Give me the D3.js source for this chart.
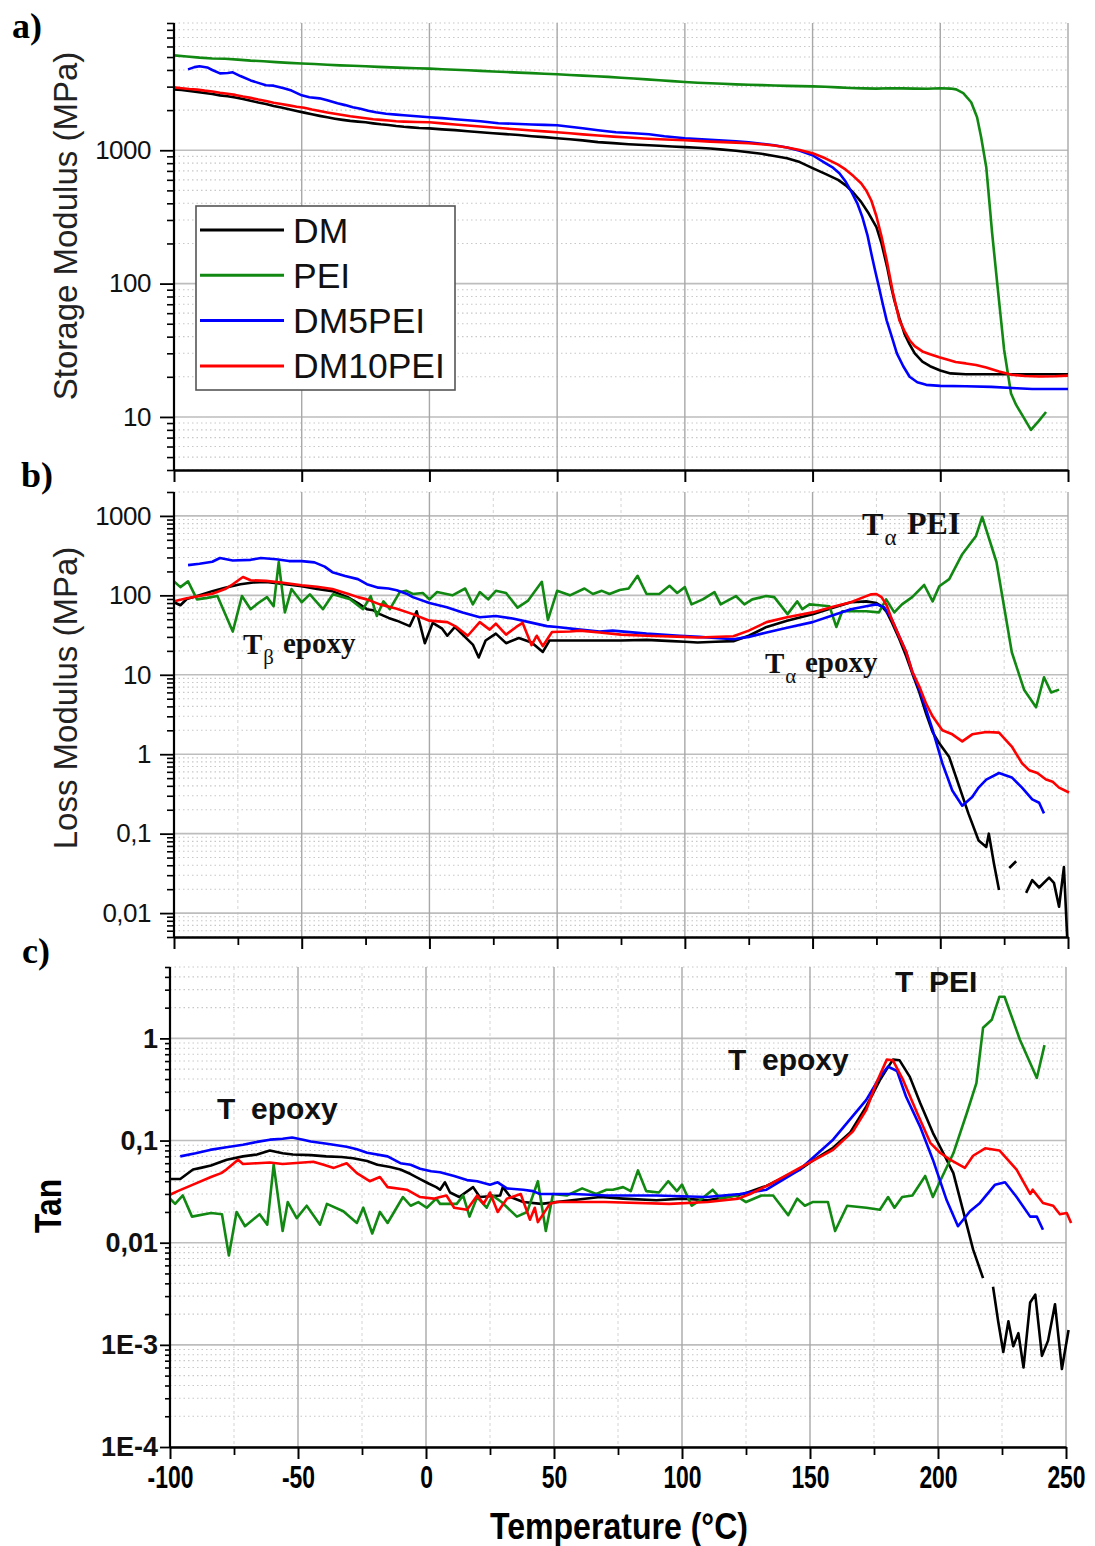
<!DOCTYPE html>
<html><head><meta charset="utf-8">
<script src="https://cdn.jsdelivr.net/npm/d3@7"></script>
<style>
body{margin:0;background:#fff}
svg{display:block}
</style>
</head><body>
<svg id="chart" width="1095" height="1546" font-family="'Liberation Sans',Arial,sans-serif"></svg>
<script>
// ---------- DATA ----------
const seriesNames = ["DM", "PEI", "DM5PEI", "DM10PEI"];
const seriesColors = ["#000000", "#118811", "#0000ff", "#ff0000"];
const xTickValues = [-100, -50, 0, 50, 100, 150, 200, 250];
const xMinorValues = [-75, -25, 25, 75, 125, 175, 225];
const xTickLabels = ["-100", "-50", "0", "50", "100", "150", "200", "250"];

const storageTicks = [10, 100, 1000];
const storageLabels = ["10", "100", "1000"];
const lossTicks = [0.01, 0.1, 1, 10, 100, 1000];
const lossLabels = ["0,01", "0,1", "1", "10", "100", "1000"];
const tanTicks = [1e-4, 1e-3, 0.01, 0.1, 1];
const tanLabels = ["1E-4", "1E-3", "0,01", "0,1", "1"];

// a) Storage modulus (MPa) : [T, E']
const storageDM = [[-100,2860],[-97,2830],[-94,2780],[-91,2740],[-88,2690],[-85,2640],[-82,2580],[-79,2540],[-76,2490],[-73,2420],[-70,2350],[-67,2280],[-64,2220],[-61,2150],[-58,2090],[-55,2030],[-52,1970],[-49,1915],[-46,1860],[-43,1810],[-40,1765],[-37,1725],[-34,1690],[-31,1660],[-28,1640],[-25,1620],[-22,1590],[-19,1565],[-16,1545],[-13,1520],[-10,1500],[-7,1485],[-4,1470],[0,1460],[5,1435],[10,1415],[15,1390],[20,1365],[25,1340],[30,1320],[35,1300],[40,1275],[45,1255],[50,1230],[55,1210],[60,1185],[66,1150],[72,1130],[78,1110],[84,1095],[90,1080],[95,1068],[100,1055],[105,1045],[110,1030],[115,1010],[120,990],[125,966],[130,940],[135,905],[140,870],[145,815],[150,735],[155,665],[160,600],[163,545],[166,480],[169,410],[172,335],[175,265],[177,200],[179.2,133],[180.5,100],[182,75],[184,55],[186,42],[188,35],[190,30],[193,26],[196,24],[200,22.3],[204,21.2],[210,20.9],[220,20.9],[235,20.9],[250,20.9]];
const storagePEI = [[-100,5150],[-95,5050],[-90,4950],[-85,4880],[-80,4850],[-75,4780],[-70,4700],[-65,4650],[-60,4580],[-55,4520],[-50,4470],[-45,4430],[-40,4380],[-35,4330],[-30,4300],[-25,4260],[-20,4220],[-15,4180],[-10,4150],[-5,4120],[0,4090],[5,4050],[10,4010],[15,3980],[20,3940],[25,3900],[30,3860],[35,3820],[40,3790],[45,3750],[50,3710],[55,3670],[60,3630],[65,3590],[70,3550],[75,3500],[80,3450],[85,3400],[90,3350],[95,3300],[100,3250],[105,3210],[110,3180],[115,3150],[120,3120],[125,3100],[130,3080],[135,3060],[140,3040],[145,3025],[150,3015],[155,2990],[160,2960],[165,2930],[170,2910],[175,2900],[180,2920],[185,2910],[190,2900],[195,2890],[200,2920],[204,2900],[206.2,2860],[209,2680],[212.1,2290],[214.4,1770],[216,1250],[218,746],[220.3,239],[222.3,100],[225,31.8],[227.7,15],[229.7,12.3],[232.5,10],[235.5,8.0],[238.5,9.3],[241.4,10.9]];
const storageDM5PEI = [[-94.5,4040],[-92,4200],[-90,4260],[-87,4180],[-85,4000],[-82,3770],[-79,3800],[-77,3840],[-74,3600],[-70,3340],[-67,3200],[-64,3070],[-61,3050],[-57,2914],[-54,2800],[-50,2580],[-47,2500],[-43,2450],[-40,2370],[-36,2250],[-33,2180],[-30,2100],[-27,2050],[-24,1980],[-21,1925],[-17,1880],[-13,1850],[-10,1830],[-5,1800],[0,1770],[5,1740],[10,1710],[15,1680],[20,1650],[27,1594],[33,1580],[40,1560],[45,1550],[50,1538],[55,1500],[60,1460],[66,1412],[73,1364],[80,1340],[86,1318],[92,1275],[100,1230],[105,1215],[110,1200],[115,1180],[120,1165],[125,1148],[130,1120],[135,1090],[140,1050],[145,990],[150,917],[155,800],[158,740],[160.5,672],[163,580],[165.5,476],[167.5,400],[169.5,315],[171.5,230],[173,168],[174.5,125],[176,94],[177.5,70],[179,53],[181,40],[183,30],[185.5,24],[188,20],[191,18.2],[194.5,17.4],[200,17.1],[210,17],[220,16.8],[230,16.4],[236,16.2],[250,16.2]];
const storageDM10PEI = [[-100,2960],[-97,2920],[-94,2880],[-91,2850],[-88,2800],[-85,2760],[-82,2700],[-79,2650],[-76,2600],[-73,2530],[-70,2470],[-67,2400],[-64,2340],[-61,2270],[-58,2220],[-55,2170],[-52,2120],[-49,2080],[-46,2020],[-43,1970],[-40,1920],[-37,1880],[-34,1840],[-31,1800],[-28,1770],[-25,1740],[-22,1710],[-19,1690],[-16,1670],[-13,1650],[-10,1640],[-5,1630],[0,1620],[5,1590],[10,1560],[15,1535],[20,1505],[25,1480],[30,1455],[35,1430],[40,1405],[45,1385],[50,1364],[55,1340],[60,1315],[66,1290],[72,1265],[78,1245],[84,1225],[90,1210],[95,1200],[100,1188],[105,1175],[110,1160],[115,1150],[120,1140],[125,1128],[130,1110],[135,1085],[140,1050],[145,1005],[150,950],[155,870],[160,780],[163,715],[166,640],[169,565],[171,500],[173,420],[175,320],[177,225],[179,150],[181.5,85],[184,53],[186,44],[188,37.6],[190,34],[193,31],[196,29.5],[199.6,28],[203,26.8],[206,25.8],[210,25.2],[214,24.5],[218,23.5],[223,21.9],[228,20.7],[233,20.3],[239,20.1],[245,20.2],[250,20.4]];

// b) Loss modulus (MPa) : [T, E'']  (null = gap in the record)
const lossDM = [[-100,82],[-97.5,75],[-95,90],[-90,100],[-85,113],[-80,125],[-74,138],[-69,145],[-64,147],[-58,140],[-50,130],[-44,120],[-38,113],[-32,95],[-28,80],[-24.5,67],[-22,65],[-19.4,58],[-16,52],[-12.8,48],[-7.7,41],[-5,63],[-1.8,25],[1.3,45],[5,38],[7,31],[10,40],[13,32],[17,24],[19.3,16.5],[22,27],[26,33],[30,25],[35,29],[40,25.5],[44.4,19.4],[47,27],[55,27],[60,27],[66.6,27],[75,27],[85,27.5],[95,26.5],[100,26],[105,25.5],[112,26],[119,26.5],[125,31],[132,40],[140,48],[150,58],[158,70],[165,82],[171,84],[175,80],[177,73],[179,62],[181,46],[184,28],[186.7,17],[189,10.5],[191.8,6],[194.5,3.2],[197,1.9],[199.6,1.37],[203.5,0.92],[207,0.43],[211,0.18],[215,0.082],[218,0.068],[219,0.1],[221,0.042],[223,0.0195],[225,null],[227,0.037],[229.7,0.045],[231.5,null],[233.6,0.018],[236,0.026],[238.7,0.021],[242.6,0.028],[244.5,0.024],[246.5,0.012],[248.4,0.038],[250,0.003]];
const lossPEI = [[-100,150],[-97.5,127],[-94.5,150],[-91,89],[-87,93],[-83,98],[-77,35],[-73.4,98],[-70,67],[-67,80],[-63.6,95],[-61,73],[-59,262],[-56.6,61],[-54,120],[-50,82],[-46.8,103],[-41.7,67],[-37.8,103],[-31,89],[-26,67],[-23,98],[-20.6,55],[-18,84],[-15.5,67],[-11.6,110],[-9,114],[-6.5,104],[-2.6,107],[0,89],[3,110],[9,100],[14,122],[17,77],[19.7,110],[23,89],[26,114],[30,107],[34.5,70],[38.5,85],[44,148],[46.4,49],[50,114],[55,100],[60.7,122],[64,104],[67.5,114],[70.5,104],[74.5,117],[78,122],[81.5,176],[85,104],[90,104],[94,132],[97,107],[100,127],[102.6,77],[107,89],[111.6,110],[114,77],[120,98],[123.3,77],[126.4,89],[131.8,98],[135,95],[140.2,58],[144,84],[146,67],[148.8,77],[152.6,75],[156.6,73],[159.3,40],[161.6,63],[165.5,63],[171,63],[176,61],[178.8,89],[182,61],[185,77],[189,95],[193.7,135],[197,84],[199.6,130],[203.5,160],[208.6,330],[214,560],[216.4,970],[222,263],[228,19.2],[232.8,6.5],[237.5,3.9],[240.6,9.3],[243.4,6],[246.5,6.5]];
const lossDM5PEI = [[-94.5,240],[-90,250],[-85,265],[-82,295],[-77,275],[-70,280],[-66,295],[-60,285],[-55,270],[-50,270],[-45,260],[-41,230],[-38,196],[-33,175],[-28,160],[-24.5,138],[-20,125],[-16,122],[-12.8,116],[-9,105],[-6.5,95],[0,80],[6.8,71],[13,61],[19.7,53],[26,55],[32.6,51],[39,46],[46,41],[50,40],[59,37],[66.6,35],[71.7,36],[85,33],[98,31],[105.7,30],[112,29],[119,28],[125,30],[132,34],[140,39],[150,46],[158,56],[165,67],[172,74],[175,77],[178,71],[181,50],[184,30],[186.7,19.2],[189,11],[191.8,6.5],[194.5,3.6],[197,2.03],[200.8,0.77],[204.7,0.35],[208.6,0.225],[212.5,0.29],[215,0.38],[218,0.48],[223,0.58],[228,0.51],[232,0.38],[236,0.27],[238.7,0.245],[240.6,0.18]];
const lossDM10PEI = [[-100,84],[-95,92],[-90,98],[-85,105],[-80,120],[-77,138],[-73,170],[-70,155],[-64,152],[-58,145],[-50,134],[-44,128],[-38,120],[-32,105],[-28,95],[-24.5,89],[-19.4,77],[-15,71],[-12.8,68],[-6.5,58],[0,48],[7,46],[10.6,40],[15,31],[19.7,46],[23.6,37],[26,44],[30,32],[34,40],[36.5,45],[40,23.6],[42,31],[44.4,23],[48,34.5],[55,35],[59,36],[66.6,34],[75,32],[85,31],[100,30],[105,29.5],[119,30.5],[125,36],[132,46],[140,53],[150,61],[158,72],[165,82],[170,95],[173,103],[175,104],[177,95],[179,75],[181,50],[184,30],[186.7,19.2],[189,11],[191.8,7.1],[194.5,4.3],[197,3.0],[200.8,2.0],[204.7,1.78],[208.6,1.45],[212.5,1.78],[218,1.9],[223,1.87],[228,1.25],[232,0.77],[234.8,0.63],[238,0.58],[241.4,0.48],[244,0.45],[246.5,0.38],[250.4,0.33]];

// c) Tan delta : [T, tan d]
const tanDM = [[-100,0.042],[-96,0.042],[-91,0.052],[-88,0.054],[-84,0.057],[-80,0.062],[-77.8,0.065],[-71.5,0.070],[-66,0.073],[-61,0.080],[-56,0.075],[-52,0.073],[-45,0.072],[-39,0.070],[-33,0.069],[-28.5,0.067],[-23,0.063],[-19,0.058],[-14,0.055],[-10,0.052],[-6,0.047],[-2.3,0.042],[1,0.038],[4,0.035],[5.5,0.033],[7.4,0.039],[9.4,0.031],[13,0.028],[18.4,0.035],[21,0.028],[29,0.029],[30,0.035],[33,0.028],[38,0.025],[45,0.024],[57,0.026],[68,0.028],[77,0.027],[90,0.026],[100,0.027],[110,0.026],[124,0.030],[133,0.036],[140,0.044],[146,0.052],[152,0.066],[159,0.085],[165.6,0.119],[172,0.216],[177.3,0.39],[180,0.5],[182.4,0.62],[185,0.61],[189,0.42],[193,0.234],[198,0.119],[202,0.076],[206,0.048],[210,0.0197],[213.7,0.0086],[217.6,0.0045],[219.5,null],[221.5,0.0037],[223.5,0.0017],[225.5,0.00085],[227.5,0.0017],[229.4,0.00097],[231.4,0.0013],[233.4,0.0006],[236,0.0026],[238,0.0031],[240.6,0.00078],[243,0.0011],[245.7,0.0025],[248.4,0.00058],[251,0.0014]];
const tanPEI = [[-100.6,0.028],[-98,0.024],[-95,0.029],[-91.4,0.018],[-84,0.0195],[-79.7,0.019],[-77,0.0075],[-74,0.020],[-70.7,0.0145],[-65,0.019],[-62,0.015],[-59.5,0.058],[-56,0.013],[-54,0.025],[-50.5,0.0174],[-46.6,0.023],[-41.4,0.015],[-38.7,0.024],[-32.3,0.0203],[-27,0.0156],[-24.5,0.022],[-21,0.0123],[-18,0.020],[-15,0.0156],[-9,0.028],[-6,0.023],[-3,0.025],[0.3,0.022],[4,0.027],[5.5,0.024],[12,0.024],[14.5,0.029],[17,0.018],[20,0.028],[23.7,0.022],[26,0.029],[29.5,0.025],[35.5,0.018],[39.5,0.020],[43.7,0.040],[46.8,0.013],[49.6,0.030],[55,0.029],[61,0.034],[66.5,0.030],[70.5,0.033],[73,0.033],[77,0.035],[80,0.032],[82.8,0.051],[86,0.032],[91,0.031],[94.6,0.040],[98,0.032],[100,0.037],[103.8,0.023],[107,0.026],[112,0.033],[115,0.027],[121,0.029],[125,0.025],[131,0.029],[135.6,0.029],[141.5,0.0186],[145,0.027],[148,0.023],[151,0.025],[157,0.025],[159.8,0.013],[164.5,0.023],[172,0.022],[177.3,0.021],[180.5,0.028],[183,0.022],[186,0.028],[190,0.029],[195,0.045],[198,0.028],[200.8,0.040],[206,0.075],[211.3,0.187],[215,0.365],[217.6,1.27],[221,1.52],[224,2.56],[226,2.56],[232,0.97],[238.6,0.41],[241.6,0.86]];
const tanDM5PEI = [[-96,0.070],[-90,0.075],[-84.4,0.081],[-78,0.086],[-71.5,0.091],[-66,0.097],[-61,0.102],[-56,0.104],[-52.3,0.107],[-48,0.102],[-45,0.098],[-38.7,0.093],[-31,0.087],[-27,0.082],[-23,0.076],[-15,0.070],[-10,0.060],[-6,0.058],[-2.3,0.053],[2,0.050],[5.5,0.049],[11,0.045],[16,0.041],[20,0.040],[25,0.037],[28,0.039],[31.6,0.034],[38,0.033],[41.8,0.032],[44.5,0.030],[57.5,0.030],[70.7,0.029],[90,0.029],[109.6,0.028],[122.6,0.030],[133,0.033],[146,0.052],[159,0.102],[172,0.25],[177.3,0.42],[180.5,0.53],[184,0.48],[187.5,0.27],[193,0.137],[198,0.065],[203.4,0.026],[207.8,0.0145],[212.5,0.0203],[216.4,0.0245],[222.3,0.037],[226.2,0.039],[230.7,0.028],[236,0.018],[238.6,0.018],[241,0.0134]];
const tanDM10PEI = [[-100.6,0.029],[-97,0.032],[-91,0.037],[-84,0.044],[-80,0.048],[-78,0.052],[-73.4,0.065],[-71.5,0.059],[-66,0.060],[-61,0.061],[-56,0.059],[-52,0.060],[-44,0.062],[-40,0.058],[-36,0.054],[-31,0.060],[-27,0.048],[-22,0.040],[-18,0.044],[-15,0.035],[-7.5,0.033],[-2.3,0.028],[3,0.027],[5.5,0.028],[8,0.029],[11,0.022],[16,0.021],[20,0.029],[22.5,0.024],[25,0.031],[28,0.020],[31.6,0.027],[37,0.030],[40.6,0.0168],[42.5,0.022],[43.7,0.0159],[48.4,0.024],[51,0.025],[70,0.025],[95,0.024],[110,0.025],[122,0.027],[126.6,0.030],[135,0.038],[146,0.054],[159,0.081],[166.8,0.123],[172,0.20],[176,0.37],[180,0.62],[182.4,0.61],[186.4,0.39],[191.8,0.187],[197,0.095],[200.8,0.076],[204.7,0.065],[210.5,0.054],[213.7,0.071],[218.4,0.084],[224,0.080],[230.7,0.052],[236,0.030],[237,0.033],[241,0.0245],[245,0.023],[247.6,0.019],[250.3,0.0195],[252,0.0156]];

// ---------- DRAWING ----------
const sans = "'Liberation Sans',Arial,sans-serif";
const serif = "'Liberation Serif','Times New Roman',serif";
const svg = d3.select("#chart");
const defs = svg.append("defs");

function decadeTicks(dom) {
  const majors = [], minors = [];
  const lo = Math.floor(Math.log10(dom[0])) - 1, hi = Math.ceil(Math.log10(dom[1])) + 1;
  for (let e = lo; e <= hi; e++) {
    const b = Math.pow(10, e);
    if (b >= dom[0] * 0.999 && b <= dom[1] * 1.001) majors.push(b);
    for (let k = 2; k <= 9; k++) {
      const v = +(k * b).toPrecision(6);
      if (v >= dom[0] * 0.999 && v <= dom[1] * 1.001) minors.push(v);
    }
  }
  return {majors, minors};
}

function drawPanel(p, idx) {
  const x = d3.scaleLinear().domain([-100, 250]).range([p.x0, p.x1]);
  const y = d3.scaleLog().domain(p.yDomain).range([p.yBot, p.yTop]);
  const g = svg.append("g");
  const t = decadeTicks(p.yDomain);

  const grid = g.append("g");
  grid.selectAll(".hmin").data(t.minors).join("line")
    .attr("x1", p.x0).attr("x2", p.x1).attr("y1", d => y(d)).attr("y2", d => y(d))
    .attr("stroke", "#c8c8c8").attr("stroke-width", 1.1).attr("stroke-dasharray", "1.5,3");
  if (p.minorX) {
    grid.selectAll(".vmin").data(xMinorValues).join("line")
      .attr("x1", d => x(d)).attr("x2", d => x(d)).attr("y1", p.yTop).attr("y2", p.yBot)
      .attr("stroke", "#d4d4d4").attr("stroke-width", 1).attr("stroke-dasharray", "3,3");
  }
  grid.selectAll(".hmaj").data(p.yTicks).join("line")
    .attr("x1", p.x0).attr("x2", p.x1).attr("y1", d => y(d)).attr("y2", d => y(d))
    .attr("stroke", "#bdbdbd").attr("stroke-width", 1.6);
  grid.selectAll(".vmaj").data(xTickValues.slice(1)).join("line")
    .attr("x1", d => x(d)).attr("x2", d => x(d)).attr("y1", p.yTop).attr("y2", p.yBot)
    .attr("stroke", "#a8a8a8").attr("stroke-width", 1.4);

  defs.append("clipPath").attr("id", "clip" + idx).append("rect")
    .attr("x", p.x0).attr("y", p.yTop - 4).attr("width", p.x1 - p.x0 + 8).attr("height", p.yBot - p.yTop + 4);

  const line = d3.line().defined(d => d[1] != null).x(d => x(d[0])).y(d => y(d[1]));
  const lg = g.append("g").attr("clip-path", "url(#clip" + idx + ")");
  p.data.forEach((s, i) => {
    lg.append("path").datum(s).attr("d", line).attr("fill", "none")
      .attr("stroke", seriesColors[i]).attr("stroke-width", 2.6)
      .attr("stroke-linejoin", "round");
  });

  g.append("g").attr("transform", `translate(${p.x0},0)`)
    .call(d3.axisLeft(y).tickValues(t.minors).tickSize(p.minorTick).tickSizeOuter(0).tickFormat(""))
    .call(a => a.select(".domain").remove())
    .call(a => a.selectAll("line").attr("stroke", "#000").attr("stroke-width", 1.6));
  const ax = g.append("g").attr("transform", `translate(${p.x0},0)`)
    .call(d3.axisLeft(y).tickValues(p.yTicks).tickSize(p.majorTick).tickPadding(p.pad).tickSizeOuter(0)
      .tickFormat((d, i) => p.yLabels[i]));
  ax.attr("font-family", sans);
  ax.select(".domain").attr("stroke", "#000").attr("stroke-width", 2.2)
    .attr("d", `M0,${p.yTop}V${p.yBot}`);
  ax.selectAll("line").attr("stroke", "#000").attr("stroke-width", 1.8);
  ax.selectAll("text").attr("font-size", p.labelSize).attr("font-weight", p.bold ? "bold" : "normal")
    .attr("fill", "#111").attr("letter-spacing", p.bold ? 0 : -0.5);

  const bx = g.append("g").attr("transform", `translate(0,${p.yBot})`)
    .call(d3.axisBottom(x).tickValues(xTickValues).tickSize(12).tickSizeOuter(0).tickPadding(7)
      .tickFormat((d, i) => p.xLabels ? xTickLabels[i] : ""));
  bx.attr("font-family", sans);
  bx.select(".domain").attr("stroke", "#000").attr("stroke-width", 2.6);
  bx.selectAll("line").attr("stroke", "#000").attr("stroke-width", 2);
  bx.selectAll("text").attr("font-size", 31).attr("font-weight", "bold").attr("fill", "#000")
    .attr("transform", "scale(0.74,1)");
  if (p.minorX) {
    g.append("g").attr("transform", `translate(0,${p.yBot})`)
      .call(d3.axisBottom(x).tickValues(xMinorValues).tickSize(8).tickSizeOuter(0).tickFormat(""))
      .call(a => a.select(".domain").remove())
      .call(a => a.selectAll("line").attr("stroke", "#000").attr("stroke-width", 1.8));
  }
  return {x, y, g};
}

drawPanel({x0: 174, x1: 1068, yTop: 23, yBot: 470, yDomain: [4, 9000],
  yTicks: storageTicks, yLabels: storageLabels, minorX: false, xLabels: false,
  majorTick: 14, minorTick: 7, pad: 9, labelSize: 26, bold: false,
  data: [storageDM, storagePEI, storageDM5PEI, storageDM10PEI]}, 0);
drawPanel({x0: 174, x1: 1068, yTop: 492, yBot: 937, yDomain: [0.005, 2000],
  yTicks: lossTicks, yLabels: lossLabels, minorX: true, xLabels: false,
  majorTick: 14, minorTick: 7, pad: 9, labelSize: 26, bold: false,
  data: [lossDM, lossPEI, lossDM5PEI, lossDM10PEI]}, 1);
drawPanel({x0: 170, x1: 1066, yTop: 967, yBot: 1447, yDomain: [1e-4, 5],
  yTicks: tanTicks, yLabels: tanLabels, minorX: true, xLabels: true,
  majorTick: 10, minorTick: 5, pad: 2, labelSize: 27, bold: true,
  data: [tanDM, tanPEI, tanDM5PEI, tanDM10PEI]}, 2);

// axis titles
svg.append("text").attr("transform", "translate(77,226) rotate(-90)").attr("text-anchor", "middle")
  .attr("font-family", sans).attr("font-size", 33).attr("fill", "#222").text("Storage Modulus (MPa)");
svg.append("text").attr("transform", "translate(77,698) rotate(-90)").attr("text-anchor", "middle")
  .attr("font-family", sans).attr("font-size", 33).attr("fill", "#222").text("Loss Modulus (MPa)");
svg.append("text").attr("transform", "translate(61,1206) rotate(-90)").attr("text-anchor", "middle")
  .attr("font-family", sans).attr("font-size", 36).attr("font-weight", "bold")
  .attr("textLength", 54).attr("lengthAdjust", "spacingAndGlyphs").text("Tan");
svg.append("text").attr("x", 619).attr("y", 1539).attr("text-anchor", "middle")
  .attr("font-family", sans).attr("font-size", 37).attr("font-weight", "bold")
  .attr("textLength", 258).attr("lengthAdjust", "spacingAndGlyphs").text("Temperature (°C)");

// panel letters
[["a)", 12, 38], ["b)", 21, 487], ["c)", 22, 963]].forEach(([s, px, py]) => {
  svg.append("text").attr("x", px).attr("y", py).attr("font-family", serif)
    .attr("font-weight", "bold").attr("font-size", 36).text(s);
});

// legend (panel a)
const leg = svg.append("g");
leg.append("rect").attr("x", 196).attr("y", 206).attr("width", 259).attr("height", 184)
  .attr("fill", "#fff").attr("stroke", "#555").attr("stroke-width", 1.6);
seriesNames.forEach((n, i) => {
  const yy = 230 + i * 45.3;
  leg.append("line").attr("x1", 200).attr("x2", 284).attr("y1", yy).attr("y2", yy)
    .attr("stroke", seriesColors[i]).attr("stroke-width", 3);
  leg.append("text").attr("x", 293).attr("y", yy + 12.5).attr("font-family", sans)
    .attr("font-size", 35.5).attr("fill", "#111").text(n);
});

// annotations
function serifLabel(x0, y0, main, sub, rest, size, restX) {
  const t = svg.append("text").attr("font-family", serif).attr("font-weight", "bold").attr("fill", "#111");
  t.append("tspan").attr("x", x0).attr("y", y0).attr("font-size", size).text(main);
  t.append("tspan").attr("x", x0 + size * 0.7).attr("y", y0 + 10).attr("font-size", size * 0.72).attr("font-weight", "normal").text(sub);
  t.append("tspan").attr("x", restX).attr("y", y0 - 1).attr("font-size", size).text(rest);
}
serifLabel(243, 654, "T", "β", "epoxy", 29, 283);
serifLabel(765, 673, "T", "α", "epoxy", 29, 805);
serifLabel(862, 535, "T", "α", "PEI", 32, 907);

function sansLabel(x0, y0, rest, restX) {
  const t = svg.append("text").attr("font-family", sans).attr("font-weight", "bold").attr("font-size", 30).attr("fill", "#111");
  t.append("tspan").attr("x", x0).attr("y", y0).text("T");
  t.append("tspan").attr("x", restX).attr("y", y0).text(rest);
}
sansLabel(217, 1119, "epoxy", 251);
sansLabel(728, 1070, "epoxy", 762);
sansLabel(895, 992, "PEI", 929);
</script>
</body></html>
